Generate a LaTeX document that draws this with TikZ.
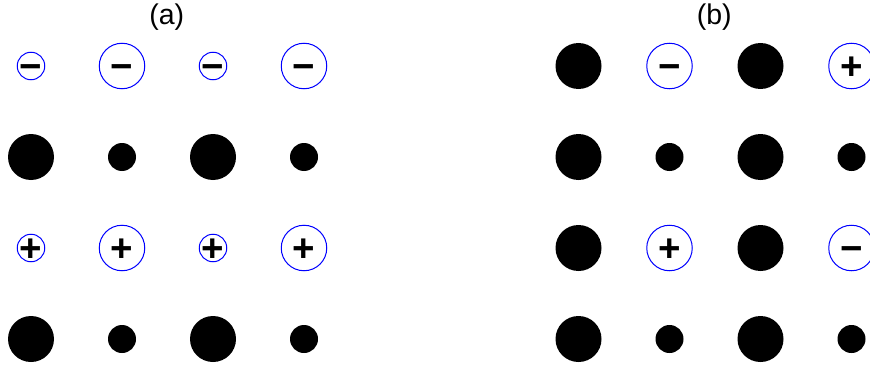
\documentclass[tikz,border=0pt]{standalone}
\usepackage{fontspec}
\setmainfont{Liberation Sans}
\begin{document}
\begin{tikzpicture}[x=1pt,y=-1pt,
  titlefont/.style={font=\fontsize{28.5}{30}\selectfont, inner sep=0pt},
  ion/.style={circle, draw=blue, line width=1pt, inner sep=0pt},
  smallion/.style={ion, minimum size=27.5pt},
  bigion/.style={ion, minimum size=45.5pt},
  sign/.style={inner sep=0pt, anchor=base, yshift=-13.6pt,
    font=\fontsize{38.5}{40}\selectfont\bfseries},
  dotbase/.style={circle, fill=black, draw=none, inner sep=0pt},
  smalldot/.style={dotbase, minimum size=28pt},
  bigdot/.style={dotbase, minimum size=46pt}]
\useasboundingbox (0,0) rectangle (870,369);
\clip (0,0) rectangle (870,369);
% titles
\node[titlefont] (ta) at (166.7,17.5) {(a)};
\node[titlefont] (tb) at (714.3,17.5) {(b)};
% panel (a)
\node[smallion] (a11) at (31,66) {};
\node[bigion]   (a12) at (122,66) {};
\node[smallion] (a13) at (213,66) {};
\node[bigion]   (a14) at (304,66) {};
\node[bigdot]   (a21) at (31,157) {};
\node[smalldot] (a22) at (122,157) {};
\node[bigdot]   (a23) at (213,157) {};
\node[smalldot] (a24) at (304,157) {};
\node[smallion] (a31) at (31,248) {};
\node[bigion]   (a32) at (122,248) {};
\node[smallion] (a33) at (213,248) {};
\node[bigion]   (a34) at (304,248) {};
\node[bigdot]   (a41) at (31,339) {};
\node[smalldot] (a42) at (122,339) {};
\node[bigdot]   (a43) at (213,339) {};
\node[smalldot] (a44) at (304,339) {};
\node[sign] (sa11) at (a11) {−};
\node[sign] (sa12) at (a12) {−};
\node[sign] (sa13) at (a13) {−};
\node[sign] (sa14) at (a14) {−};
\node[sign] (sa31) at (a31) {+};
\node[sign] (sa32) at (a32) {+};
\node[sign] (sa33) at (a33) {+};
\node[sign] (sa34) at (a34) {+};
% panel (b)
\node[bigdot]   (b11) at (578.5,66) {};
\node[bigion]   (b12) at (669.5,66) {};
\node[bigdot]   (b13) at (760.5,66) {};
\node[bigion]   (b14) at (851.5,66) {};
\node[bigdot]   (b21) at (578.5,157) {};
\node[smalldot] (b22) at (669.5,157) {};
\node[bigdot]   (b23) at (760.5,157) {};
\node[smalldot] (b24) at (851.5,157) {};
\node[bigdot]   (b31) at (578.5,248) {};
\node[bigion]   (b32) at (669.5,248) {};
\node[bigdot]   (b33) at (760.5,248) {};
\node[bigion]   (b34) at (851.5,248) {};
\node[bigdot]   (b41) at (578.5,339) {};
\node[smalldot] (b42) at (669.5,339) {};
\node[bigdot]   (b43) at (760.5,339) {};
\node[smalldot] (b44) at (851.5,339) {};
\node[sign] (sb12) at (b12) {−};
\node[sign] (sb14) at (b14) {+};
\node[sign] (sb32) at (b32) {+};
\node[sign] (sb34) at (b34) {−};
\end{tikzpicture}
\end{document}
